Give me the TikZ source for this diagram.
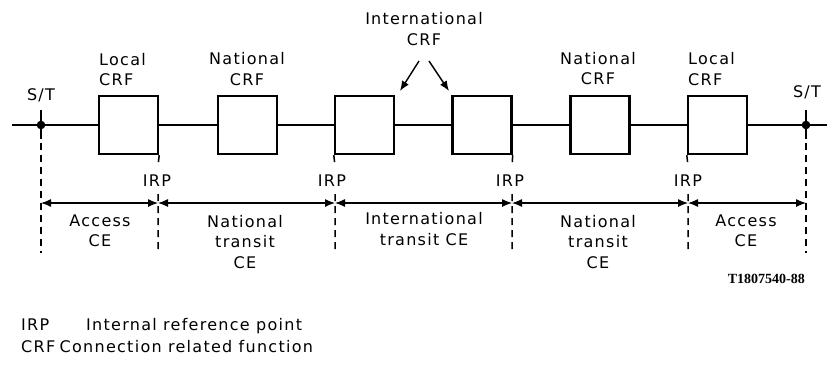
\documentclass[tikz,border=0pt]{standalone}
\usepackage{fontspec}
\setmainfont{DejaVu Sans}[LetterSpace=8]
\newfontfamily\codefont{Liberation Serif}
\usetikzlibrary{arrows.meta}
\tikzset{
  crf/.style={draw, line width=2.4pt, minimum width=59pt, minimum height=58pt, inner sep=0pt},
  lbl/.style={font=\fontsize{16}{20.5}\selectfont, align=center, inner sep=0pt},
  mainline/.style={line width=1.3pt},
  refline/.style={line width=1.5pt, dash pattern=on 7pt off 5pt},
  tick/.style={line width=2.6pt},
  dimarrow/.style={line width=1.2pt, {Latex[length=10pt,width=8pt]}-{Latex[length=10pt,width=8pt]}},
  ptr/.style={line width=1.4pt, -{Latex[length=10pt,width=8pt]}},
}
\begin{document}
\begin{tikzpicture}[x=1pt,y=-1pt]
\useasboundingbox (0,0) rectangle (827,365);
% boxes
\node[crf] (b1) at (128.5,125) {};
\node[crf] (b2) at (247.5,125) {};
\node[crf] (b3) at (364.5,125) {};
\node[crf] (b4) at (482,125) {};
\node[crf] (b5) at (600,125) {};
\node[crf] (b6) at (717.5,125) {};
% main line
\coordinate (L) at (12,125);
\coordinate (R) at (827,125);
\coordinate (st1) at (41,125);
\coordinate (st2) at (806,125);
\draw[mainline] (L) -- (b1.west) (b1.east) -- (b2.west) (b2.east) -- (b3.west)
  (b3.east) -- (b4.west) (b4.east) -- (b5.west) (b5.east) -- (b6.west) (b6.east) -- (R);
% S/T points
\fill (st1) circle (4.3pt);
\fill (st2) circle (4.3pt);
\coordinate (st1t) at (41,110); \coordinate (st1b) at (41,139);
\coordinate (st2t) at (806,110); \coordinate (st2b) at (806,139);
\draw[tick] (st1t) -- (st1b);
\draw[tick] (st2t) -- (st2b);
\node[lbl] (stl1) at (41,95) {S/T};
\node[lbl] (stl2) at (807,92) {S/T};
% vertical reference lines
\coordinate (v0a) at (41,143);  \coordinate (v0b) at (41,253);
\coordinate (v5a) at (806,143); \coordinate (v5b) at (806,253);
\draw[refline] (v0a) -- (v0b);
\draw[refline] (v5a) -- (v5b);
% IRP
\node[lbl] (irp1) at (157,181) {IRP};
\node[lbl] (irp2) at (332,181) {IRP};
\node[lbl] (irp3) at (510,181) {IRP};
\node[lbl] (irp4) at (688,181) {IRP};
\coordinate (v1a) at (158,166); \coordinate (v1b) at (158,194); \coordinate (v1c) at (158,253);
\coordinate (v2a) at (335,166); \coordinate (v2b) at (335,194); \coordinate (v2c) at (335,253);
\coordinate (v3a) at (512,166); \coordinate (v3b) at (512,194); \coordinate (v3c) at (512,253);
\coordinate (v4a) at (688,166); \coordinate (v4b) at (688,194); \coordinate (v4c) at (688,253);
\draw[refline] (b1.south east) -- (v1a) (v1b) -- (v1c);
\draw[refline] (b3.south west) -- (v2a) (v2b) -- (v2c);
\draw[refline] (b4.south east) -- (v3a) (v3b) -- (v3c);
\draw[refline] (b6.south west) -- (v4a) (v4b) -- (v4c);
% dimension arrows
\coordinate (d0) at (41,203);
\coordinate (d1) at (158,203);
\coordinate (d2) at (335,203);
\coordinate (d3) at (512,203);
\coordinate (d4) at (688,203);
\coordinate (d5) at (806,203);
\draw[dimarrow] (d0) -- (d1);
\draw[dimarrow] (d1) -- (d2);
\draw[dimarrow] (d2) -- (d3);
\draw[dimarrow] (d3) -- (d4);
\draw[dimarrow] (d4) -- (d5);
% CE labels
\node[lbl] (ce1) at (100,231) {Access\\CE};
\node[lbl] (ce2) at (245,242) {National\\transit\\CE};
\node[lbl] (ce3) at (424,229) {International\\transit CE};
\node[lbl] (ce4) at (598,242) {National\\transit\\CE};
\node[lbl] (ce5) at (746,231) {Access\\CE};
% CRF labels
\node[lbl, align=left, anchor=west] (lc1) at (99,69.5) {Local\\CRF};
\node[lbl] (nc1) at (247,69) {National\\CRF};
\node[lbl] (ic) at (424,29) {International\\CRF};
\node[lbl] (nc2) at (598,68.5) {National\\CRF};
\node[lbl, align=left, anchor=west] (lc2) at (688,69) {Local\\CRF};
% international pointers
\coordinate (p1) at (419,61);
\coordinate (p2) at (429,61);
\coordinate (p1e) at (400,91);
\coordinate (p2e) at (449,91);
\draw[ptr] (p1) -- (p1e);
\draw[ptr] (p2) -- (p2e);
% figure code
\node[inner sep=0pt, anchor=base east, font=\codefont\bfseries\fontsize{14}{16}\selectfont] (code) at (805,283) {T1807540-88};
% legend
\node[lbl, anchor=base west] (k1) at (21,330) {IRP};
\node[lbl, anchor=base west] (k1t) at (86,330) {Internal reference point};
\node[lbl, anchor=base west] (k2) at (21,352) {CRF};
\node[lbl, anchor=base west] (k2t) at ([xshift=4pt]k2.base east) {Connection related function};
\end{tikzpicture}
\end{document}
